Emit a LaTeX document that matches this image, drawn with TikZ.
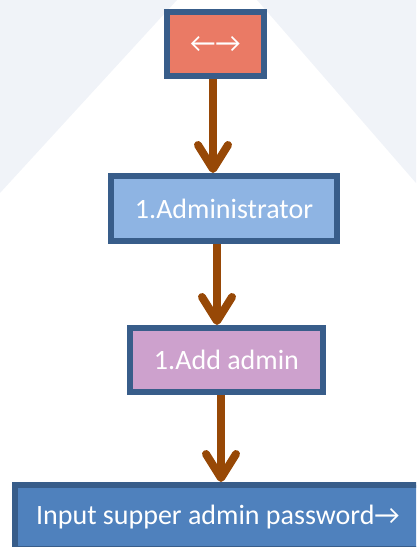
\documentclass[tikz,border=0pt]{standalone}
\usepackage{fontspec}
\setmainfont{Carlito}
\usetikzlibrary{arrows.meta,positioning}

\definecolor{bgshade}{HTML}{F0F3F8}
\definecolor{boxline}{HTML}{385D8A}
\definecolor{flowbrown}{HTML}{974806}
\definecolor{startfill}{HTML}{EA7A65}
\definecolor{adminfill}{HTML}{8EB4E3}
\definecolor{addfill}{HTML}{CDA1CD}
\definecolor{inputfill}{HTML}{4F81BD}

\begin{document}
\begin{tikzpicture}[x=1pt, y=-1pt,
    box/.style={draw=boxline, line width=6pt, text=white, inner sep=0pt,
        font=\fontsize{28}{32}\selectfont},
    flow/.style={draw=flowbrown, line width=8pt,
        -{Straight Barb[length=24pt, width=30pt, round]}}]
    \useasboundingbox (0, 0) rectangle (416, 547);
    \clip (0, 0) rectangle (416, 547);

    % shaded corners behind the chart
    \fill[bgshade] (0, 0) -- (177, 0) -- (0, 193) -- cycle;
    \fill[bgshade] (257, 0) -- (416, 0) -- (416, 183) -- cycle;

    \node[box, fill=startfill, minimum width=97, minimum height=64] (start) at (215.5, 44) {←→};
    \node[box, fill=adminfill, minimum width=226, minimum height=65] (admin) at (224, 208.5) {1.Administrator};
    \node[box, fill=addfill, minimum width=193, minimum height=64] (addadmin) at (226.5, 360) {1.Add admin};
    \node[box, fill=inputfill, minimum width=406, minimum height=64] (input) at (218, 517) {Input supper admin password→};

    \draw[flow] ([xshift=-2.5pt]start.south) -- ([xshift=-2.5pt]start.south |- admin.north);
    \draw[flow] ([xshift=-7pt]admin.south) -- ([xshift=-7pt]admin.south |- addadmin.north);
    \draw[flow] ([xshift=-5.5pt]addadmin.south) -- ([xshift=-5.5pt]addadmin.south |- input.north);
\end{tikzpicture}
\end{document}
